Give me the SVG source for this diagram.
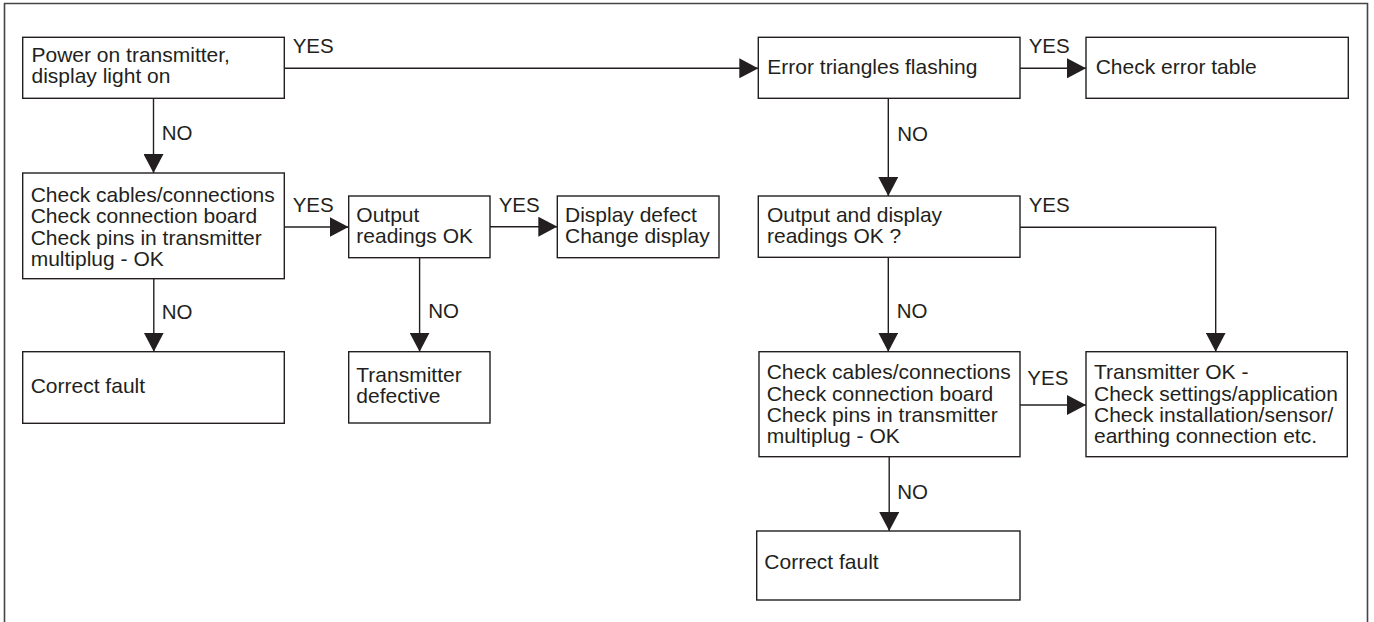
<svg xmlns="http://www.w3.org/2000/svg" width="1374" height="622" viewBox="0 0 1374 622">
<style>
  .box { fill: #ffffff; stroke: #231f20; stroke-width: 1.4; }
  .t { font-family: "Liberation Sans", Arial, sans-serif; font-size: 21px; fill: #231f20; }
  .lbl { font-family: "Liberation Sans", Arial, sans-serif; font-size: 20.5px; fill: #231f20; }
  .c { fill: none; stroke: #231f20; stroke-width: 1.4; marker-end: url(#arr); }
  .frame { fill: none; stroke: #444444; stroke-width: 1.6; }
</style>
<defs>
  <marker id="arr" markerUnits="userSpaceOnUse" markerWidth="19" markerHeight="20" refX="19" refY="10" orient="auto" viewBox="0 0 19 20">
    <path d="M0,0 L19,10 L0,20 Z" fill="#231f20"/>
  </marker>
</defs>
<rect width="1374" height="622" fill="#ffffff"/>
<path class="frame" d="M4.5,622 V3.5 H1367.5 V622"/>

<g id="connectors">
  <path class="c" d="M284.3,68.3 H758.3"/>
  <path class="c" d="M153.5,98.3 V173"/>
  <path class="c" d="M284.3,227 H348.5"/>
  <path class="c" d="M153.8,278.7 V351.7"/>
  <path class="c" d="M490,226.7 H557.3"/>
  <path class="c" d="M419.6,257.7 V351.7"/>
  <path class="c" d="M1020,68.3 H1086"/>
  <path class="c" d="M888.3,98.3 V196"/>
  <path class="c" d="M1020,227.3 H1215.7 V351.7"/>
  <path class="c" d="M888.3,257.3 V351.7"/>
  <path class="c" d="M1020,405 H1086"/>
  <path class="c" d="M889.2,456.7 V531"/>
  <text class="lbl" x="292.7" y="53.3">YES</text>
  <text class="lbl" x="161.7" y="140">NO</text>
  <text class="lbl" x="292.7" y="211.7">YES</text>
  <text class="lbl" x="161.7" y="319.3">NO</text>
  <text class="lbl" x="498.7" y="211.7">YES</text>
  <text class="lbl" x="428.3" y="318.3">NO</text>
  <text class="lbl" x="1028.7" y="53.3">YES</text>
  <text class="lbl" x="897.3" y="140.7">NO</text>
  <text class="lbl" x="1028.7" y="211.7">YES</text>
  <text class="lbl" x="896.7" y="318.3">NO</text>
  <text class="lbl" x="1027.3" y="385">YES</text>
  <text class="lbl" x="897.3" y="499.3">NO</text>
</g>

<g id="power-on">
  <rect class="box" x="22.7" y="37.3" width="261.6" height="61"/>
  <text class="t" x="31.5" y="61.7">Power on transmitter,</text>
  <text class="t" x="31.5" y="83.3">display light on</text>
</g>

<g id="check-cables-left">
  <rect class="box" x="22.7" y="173" width="261.6" height="105.7"/>
  <text class="t" x="30.7" y="201.7">Check cables/connections</text>
  <text class="t" x="30.7" y="223.3">Check connection board</text>
  <text class="t" x="30.7" y="245">Check pins in transmitter</text>
  <text class="t" x="30.7" y="266.3">multiplug - OK</text>
</g>

<g id="correct-fault-left">
  <rect class="box" x="22.7" y="351.7" width="261.6" height="71.6"/>
  <text class="t" x="30.7" y="393.3">Correct fault</text>
</g>

<g id="output-readings">
  <rect class="box" x="348.7" y="196" width="141.3" height="61.7"/>
  <text class="t" x="356.3" y="221.7">Output</text>
  <text class="t" x="356.3" y="242.7">readings OK</text>
</g>

<g id="display-defect">
  <rect class="box" x="557.3" y="196" width="161.7" height="61.7"/>
  <text class="t" x="565" y="221.7">Display defect</text>
  <text class="t" x="565" y="242.7">Change display</text>
</g>

<g id="transmitter-defective">
  <rect class="box" x="348.7" y="351.7" width="141.3" height="71.3"/>
  <text class="t" x="356.3" y="381.7">Transmitter</text>
  <text class="t" x="356.3" y="403.3">defective</text>
</g>

<g id="error-triangles">
  <rect class="box" x="758.3" y="37.3" width="261.7" height="61"/>
  <text class="t" x="767.3" y="74">Error triangles flashing</text>
</g>

<g id="check-error-table">
  <rect class="box" x="1086" y="37.3" width="262.3" height="61"/>
  <text class="t" x="1095.7" y="74">Check error table</text>
</g>

<g id="output-display">
  <rect class="box" x="758.3" y="196" width="261.7" height="61.3"/>
  <text class="t" x="767" y="221.7">Output and display</text>
  <text class="t" x="767" y="242.7">readings OK ?</text>
</g>

<g id="check-cables-right">
  <rect class="box" x="759" y="351.7" width="261" height="105"/>
  <text class="t" x="766.7" y="379">Check cables/connections</text>
  <text class="t" x="766.7" y="400.7">Check connection board</text>
  <text class="t" x="766.7" y="421.7">Check pins in transmitter</text>
  <text class="t" x="766.7" y="442.7">multiplug - OK</text>
</g>

<g id="transmitter-ok">
  <rect class="box" x="1086" y="351.7" width="261.3" height="105"/>
  <text class="t" x="1094" y="379">Transmitter OK -</text>
  <text class="t" x="1094" y="400.7">Check settings/application</text>
  <text class="t" x="1094" y="421.7">Check installation/sensor/</text>
  <text class="t" x="1094" y="442.7">earthing connection etc.</text>
</g>

<g id="correct-fault-right">
  <rect class="box" x="756.7" y="531" width="263.3" height="69"/>
  <text class="t" x="764.3" y="569.3">Correct fault</text>
</g>
</svg>
